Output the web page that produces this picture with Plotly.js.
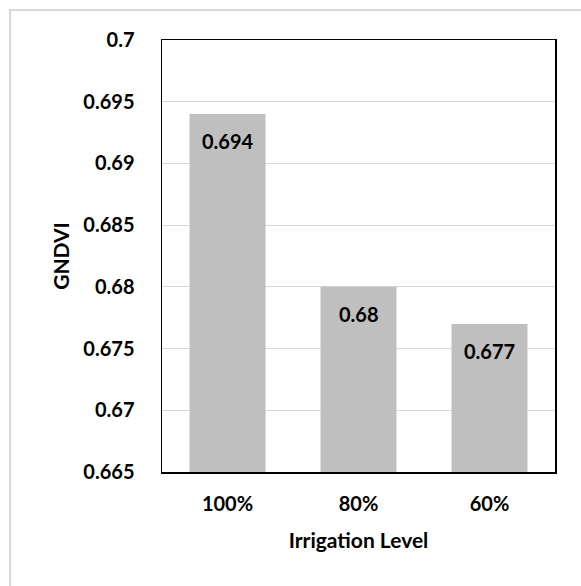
<!DOCTYPE html>
<html><head><meta charset="utf-8">
<script src="https://cdn.plot.ly/plotly-3.0.1.min.js"></script>
<style>
html,body{margin:0;padding:0;background:#fff;}
#chart{position:absolute;left:0;top:0;width:581px;height:586px;}
#frame{position:absolute;left:9px;top:9px;width:600px;height:600px;border:2px solid #d9d9d9;pointer-events:none;box-sizing:border-box;}
</style></head>
<body>
<div id="chart"></div>
<div id="frame"></div>
<script>
const categories = ['100%', '80%', '60%'];
const gndvi = [0.694, 0.68, 0.677];
const labels = ['0.694', '0.68', '0.677'];

const font = 'Lato, "Open Sans", sans-serif';
const trace = {
  type: 'bar', x: categories, y: gndvi,
  marker: {color: '#bfbfbf'}, hoverinfo: 'none'
};
const annotations = categories.map((c, i) => ({
  x: c, y: gndvi[i], xref: 'x', yref: 'y', text: labels[i],
  showarrow: false, yanchor: 'top', yshift: -13,
  font: {family: font, size: 20, color: '#000', weight: 'bold'}
}));
const layout = {
  width: 581, height: 586,
  margin: {l: 162, r: 26, t: 40, b: 114},
  paper_bgcolor: '#fff', plot_bgcolor: '#fff',
  bargap: 0.42, showlegend: false,
  font: {family: font, color: '#000'},
  xaxis: {
    type: 'category',
    showline: true, linecolor: '#000', linewidth: 1.5, mirror: true,
    ticks: '', ticklabelstandoff: 13,
    tickfont: {family: font, size: 20, color: '#000', weight: 'bold'},
    title: {text: 'Irrigation Level', standoff: 20,
      font: {family: font, size: 21, color: '#000', weight: 'bold'}}
  },
  yaxis: {
    range: [0.665, 0.7], dtick: 0.005, tick0: 0.665,
    showline: true, linecolor: '#000', linewidth: 1.5, mirror: true,
    showgrid: true, gridcolor: '#d9d9d9', gridwidth: 1, zeroline: false,
    ticks: '', ticklabelstandoff: 22,
    tickfont: {family: font, size: 20, color: '#000', weight: 'bold'},
    title: {text: 'GNDVI', standoff: 8,
      font: {family: font, size: 21, color: '#000', weight: 'bold'}}
  },
  annotations: annotations
};
Plotly.newPlot('chart', [trace], layout, {displayModeBar: false, staticPlot: true});
</script>
</body></html>
